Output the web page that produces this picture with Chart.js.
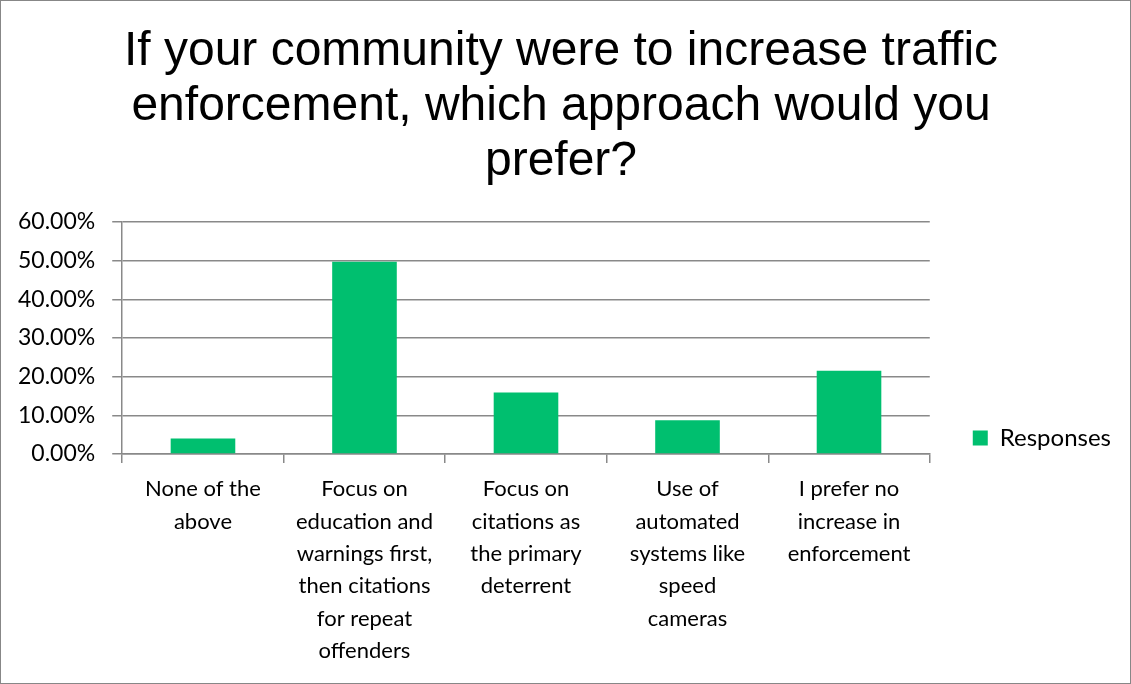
<!DOCTYPE html>
<html>
<head>
<meta charset="utf-8">
<script src="https://cdn.jsdelivr.net/npm/chart.js@4"></script>
<style>
  html, body { margin: 0; padding: 0; background: #fff; }
  #wrap { width: 1129px; height: 682px; border: 1px solid #878787; }
</style>
</head>
<body>
<div id="wrap"><canvas id="chart"></canvas></div>
<script>
const categories = [
  ['None of the', 'above'],
  ['Focus on', 'education and', 'warnings first,', 'then citations', 'for repeat', 'offenders'],
  ['Focus on', 'citations as', 'the primary', 'deterrent'],
  ['Use of', 'automated', 'systems like', 'speed', 'cameras'],
  ['I prefer no', 'increase in', 'enforcement'],
]
const responses = [4.0, 49.7, 15.9, 8.7, 21.5]
const titleLines = [
  'If your community were to increase traffic',
  'enforcement, which approach would you',
  'prefer?',
]

const grid = '#898989'
const green = '#00BF6F'
const label = { family: 'Lato', size: 23 }

new Chart(document.getElementById('chart'), {
  type: 'bar',
  data: {
    labels: categories,
    datasets: [
      {
        label: 'Responses',
        data: responses,
        backgroundColor: green,
        barPercentage: 0.4,
        categoryPercentage: 1,
      },
    ],
  },
  options: {
    responsive: true,
    maintainAspectRatio: false,
    animation: false,
    layout: { padding: { left: 0, right: 9, top: 0, bottom: 6 } },
    plugins: {
      title: {
        display: true,
        text: titleLines,
        color: '#000',
        font: { family: 'Liberation Sans, Arial', size: 48, weight: 'normal', lineHeight: 1.146 },
        padding: { top: 23.5, bottom: 32.5 },
      },
      legend: {
        position: 'right',
        align: 'end',
        fullSize: false,
        labels: {
          boxWidth: 15,
          boxHeight: 15,
          padding: 4,
          color: '#000',
          font: { family: 'Lato', size: 24 },
        },
      },
      tooltip: { enabled: false },
    },
    scales: {
      x: {
        grid: {
          drawOnChartArea: false,
          drawTicks: true,
          tickLength: 9,
          color: grid,
          lineWidth: 1.5,
        },
        border: { color: grid, width: 1.5 },
        ticks: {
          color: '#000',
          maxRotation: 0,
          autoSkip: false,
          padding: 10,
          font: { family: 'Lato', size: 22, lineHeight: 1.47 },
        },
      },
      y: {
        min: 0,
        max: 60,
        grid: { color: grid, lineWidth: 1.5, tickLength: 10 },
        border: { color: grid, width: 1.5 },
        ticks: {
          stepSize: 10,
          color: '#000',
          padding: 17,
          font: label,
          callback: (v) => v.toFixed(2) + '%',
        },
      },
      // empty spacer between the plot and the legend
      gap: {
        axis: 'y',
        position: 'right',
        grid: { display: false },
        border: { display: false },
        ticks: { display: false },
        afterFit: (s) => {
          s.width = 39
        },
      },
    },
  },
})
</script>
</body>
</html>
